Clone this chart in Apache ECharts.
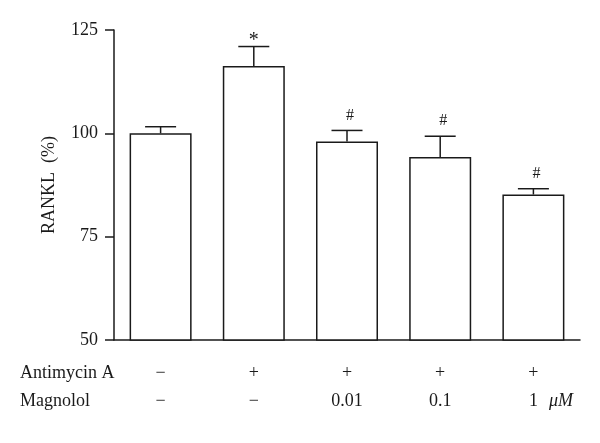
<!DOCTYPE html>
<html><head><meta charset="utf-8">
<script src="https://cdn.jsdelivr.net/npm/echarts@6/dist/echarts.min.js"></script>
<style>html,body{margin:0;padding:0;background:#fff}#c{width:600px;height:443px}</style>
</head><body><div id="c"></div>
<script>
var groups = ['g1','g2','g3','g4','g5'];
var means = [100, 116.3, 98, 94.3, 85.2];
var errUpper = [101.6, 121, 100.7, 99.3, 86.6];
var marks = ['', '*', '#', '#', '#'];
var antimycin = ['\u2212', '+', '+', '+', '+'];
var magnolol = ['\u2212', '\u2212', '0.01', '0.1', '1'];
var yTicks = [50, 75, 100, 125];

var FONT = 'Liberation Serif';
var INK = '#1a1a1a';
var chart = echarts.init(document.getElementById('c'));
chart.setOption({
  animation: false,
  backgroundColor: '#fff',
  grid: {left: 114, right: 20, top: 30, bottom: 103},
  xAxis: {
    type: 'category', data: groups,
    axisLine: {lineStyle: {color: INK, width: 1.5}},
    axisTick: {alignWithLabel: true, length: 9, lineStyle: {color: INK, width: 1.5}},
    axisLabel: {
      margin: 19,
      formatter: function (v, i) { return antimycin[i] + '\n' + magnolol[i]; },
      fontFamily: FONT, fontSize: 18, color: INK, lineHeight: 28
    }
  },
  yAxis: {
    type: 'value', min: 50, max: 125, interval: 25,
    name: 'RANKL  (%)', nameLocation: 'middle', nameGap: 56,
    nameTextStyle: {fontFamily: FONT, fontSize: 18, color: INK},
    splitLine: {show: false},
    axisLine: {show: true, lineStyle: {color: INK, width: 1.5}},
    axisTick: {show: true, length: 9, lineStyle: {color: INK, width: 1.5}},
    axisLabel: {fontFamily: FONT, fontSize: 18, color: INK, margin: 16,
      formatter: function (v) { return yTicks.indexOf(v) >= 0 ? String(v) : ''; }}
  },
  series: [
    {
      type: 'bar', data: means, barWidth: 62,
      itemStyle: {color: '#fff', borderColor: INK, borderWidth: 1.5},
      z: 2
    },
    {
      type: 'custom', z: 3,
      data: means.map(function (m, i) { return [i, m, errUpper[i]]; }),
      renderItem: function (params, api) {
        var i = api.value(0);
        var top = api.coord([i, api.value(1)]);
        var cap = api.coord([i, api.value(2)]);
        var half = 15.5;
        var children = [
          {type: 'line', shape: {x1: top[0], y1: top[1], x2: cap[0], y2: cap[1]}, style: {stroke: INK, lineWidth: 1.5}},
          {type: 'line', shape: {x1: cap[0] - half, y1: cap[1], x2: cap[0] + half, y2: cap[1]}, style: {stroke: INK, lineWidth: 1.5}}
        ];
        var mk = marks[params.dataIndex];
        if (mk) {
          children.push({type: 'text', style: {
            text: mk, x: cap[0] + (mk === '*' ? 0 : 3), y: cap[1] + (mk === '*' ? 4 : -7),
            textAlign: 'center', textVerticalAlign: 'bottom',
            fontFamily: FONT, fontSize: mk === '*' ? 20 : 16, fill: INK
          }});
        }
        return {type: 'group', children: children};
      }
    }
  ],
  graphic: [
    {type: 'text', left: 20, top: 364, style: {text: 'Antimycin A', fontFamily: FONT, fontSize: 18, fill: INK}},
    {type: 'text', left: 20, top: 392, style: {text: 'Magnolol', fontFamily: FONT, fontSize: 18, fill: INK}},
    {type: 'text', left: 549, top: 392, style: {text: '\u03bcM', fontFamily: FONT, fontSize: 18, fontStyle: 'italic', fill: INK}}
  ]
});
</script></body></html>
